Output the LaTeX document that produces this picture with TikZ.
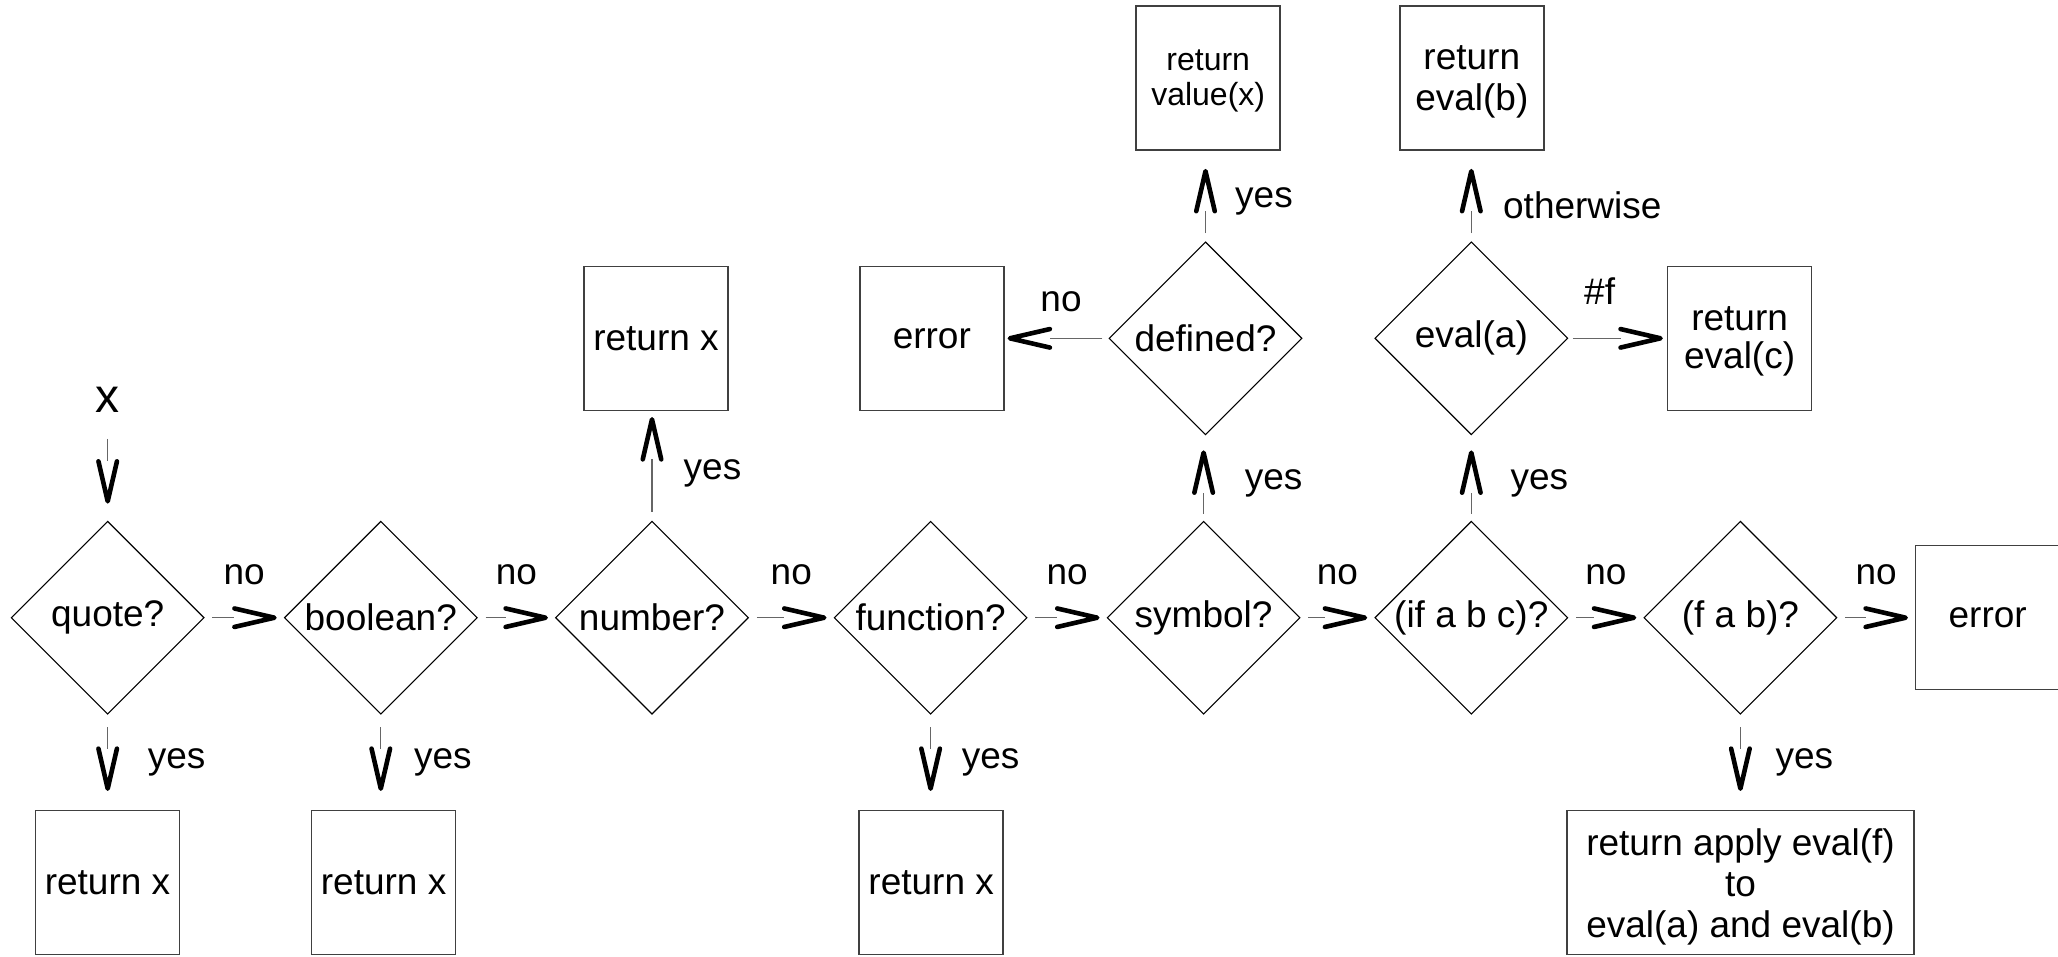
\documentclass[tikz,border=0pt]{standalone}
\usepackage{fontspec}
\setmainfont{Liberation Sans}
\usetikzlibrary{arrows.meta,shapes.geometric}

% Open "V" arrow head: thick black barbs, the shaft stops at the mouth of the V
\pgfdeclarearrow{
  name = OpenVee,
  parameters = {\the\pgfarrowlength,\the\pgfarrowwidth},
  setup code = {
    \pgfarrowssettipend{0pt}
    \pgfarrowssetlineend{-\pgfarrowlength}
    \pgfarrowssetbackend{-\pgfarrowlength}
    \pgfarrowshullpoint{0pt}{0pt}
    \pgfarrowsupperhullpoint{-\pgfarrowlength}{.5\pgfarrowwidth}
    \pgfarrowssavethe\pgfarrowlength
    \pgfarrowssavethe\pgfarrowwidth
  },
  drawing code = {
    \pgfsetlinewidth{4.6pt}
    \pgfsetroundcap
    \pgfsetroundjoin
    \pgfsetdash{}{0pt}
    \pgfpathmoveto{\pgfqpoint{-\pgfarrowlength}{.5\pgfarrowwidth}}
    \pgfpathlineto{\pgfqpoint{0pt}{0pt}}
    \pgfpathlineto{\pgfqpoint{-\pgfarrowlength}{-.5\pgfarrowwidth}}
    \pgfusepathqstroke
  },
  defaults = {length = 40pt, width = 18.5pt}
}

\newcommand\labelfont{\fontsize{37}{41}\selectfont}
\newcommand\smallerfont{\fontsize{32}{35}\selectfont}

\begin{document}
\begin{tikzpicture}[x=1pt, y=-1pt,
  dia/.style={diamond, aspect=1, draw=black, line width=1.1pt,
    minimum width=193pt, minimum height=193pt, inner sep=0pt, font=\labelfont},
  box/.style={rectangle, draw=black!75, line width=1.5pt, minimum width=144pt,
    minimum height=144pt, inner sep=0pt, align=center, font=\labelfont},
  xlbl/.style={inner sep=0pt, font=\fontsize{48}{52}\selectfont},
  lbl/.style={inner sep=0pt, font=\labelfont},
  conn/.style={draw=black!60, line width=1.3pt, -{OpenVee[color=black]},
    shorten <=7.7pt, shorten >=9.3pt},
]
\useasboundingbox (0,0) rectangle (2058,956);
\fill[white] (0,0) rectangle (2058,956);

% main row of tests
\node[xlbl] (xin) at (107.7,400) {x};
\node[dia] (q)   at (107.7,617.7)  {quote?};
\node[dia] (bo)  at (380.8,617.7)  {boolean?};
\node[dia] (nu)  at (652,617.7)    {number?};
\node[dia] (fu)  at (930.6,617.7)  {function?};
\node[dia] (sy)  at (1203.6,617.7) {symbol?};
\node[dia] (ifc) at (1471.3,617.7) {(if a b c)?};
\node[dia] (fab) at (1740.4,617.7) {(f a b)?};
\node[box] (errR) at (1987.7,617.7) {error};

% upper tests and results
\node[dia] (de) at (1205.5,338.3) {defined?};
\node[dia] (ev) at (1471.3,338.3) {eval(a)};
\node[box] (errL) at (931.8,338.3) {error};
\node[box] (rn) at (656,338.3) {return x};
\node[box, font=\fontsize{37}{38}\selectfont, text depth=1.2pt] (rc) at (1739.6,338.3) {return\\eval(c)};
\node[box, font=\smallerfont, text depth=0.7pt] (rv) at (1208.2,78.1) {return\\value(x)};
\node[box, text depth=-2pt] (rb) at (1471.8,78.1) {return\\eval(b)};

% results below the main row
\node[box] (r1) at (107.5,882.7) {return x};
\node[box] (r2) at (383.6,882.7) {return x};
\node[box] (r3) at (931.2,882.7) {return x};
\node[box, minimum width=347pt, text depth=0pt] (app) at (1740.5,882.7)
  {return apply eval(f)\\to\\eval(a) and eval(b)};

% input
\draw[conn, shorten <=26pt, shorten >=19.3pt] (xin) -- (q);

% "no" chain
\draw[conn] (q)   -- node[lbl, midway, yshift=43pt] {no} (bo);
\draw[conn] (bo)  -- node[lbl, midway, yshift=43pt] {no} (nu);
\draw[conn] (nu)  -- node[lbl, midway, yshift=43pt] {no} (fu);
\draw[conn] (fu)  -- node[lbl, midway, yshift=43pt] {no} (sy);
\draw[conn] (sy)  -- node[lbl, midway, yshift=43pt] {no} (ifc);
\draw[conn] (ifc) -- node[lbl, midway, yshift=43pt] {no} (fab);
\draw[conn] (fab) -- node[lbl, midway, yshift=43pt] {no} (errR);

% "yes" downwards
\draw[conn, shorten <=12.7pt, shorten >=21.3pt] (q) -- node[lbl, midway, xshift=69pt] {yes} (q |- r1.north);
\draw[conn, shorten <=12.7pt, shorten >=21.3pt] (bo) -- node[lbl, midway, xshift=62pt] {yes} (bo |- r2.north);
\draw[conn, shorten <=12.7pt, shorten >=21.3pt] (fu) -- node[lbl, midway, xshift=60pt] {yes} (fu |- r3.north);
\draw[conn, shorten <=12.7pt, shorten >=21.3pt] (fab) -- node[lbl, midway, xshift=64pt] {yes} (fab |- app.north);

% "yes" upwards
\draw[conn, shorten <=9pt, shorten >=8.3pt] (nu) -- node[lbl, midway, xshift=60.5pt, yshift=-8pt] {yes} (nu |- rn.south);
\draw[conn, shorten <=7pt, shorten >=17.3pt] (sy) -- node[lbl, midway, xshift=70pt, yshift=-5pt] {yes} (sy |- de.south);
\draw[conn, shorten <=7pt, shorten >=17.3pt] (ifc) -- node[lbl, midway, xshift=68pt, yshift=-5pt] {yes} (ev);

% symbol lookup
\draw[conn, shorten <=8pt, shorten >=20.3pt] (de) -- node[lbl, midway, xshift=58.5pt, yshift=-5pt] {yes} (de |- rv.south);
\draw[conn, shorten <=6pt, shorten >=5.3pt] (de) -- node[lbl, midway, xshift=4.5pt, yshift=36.6pt] {no} (errL);

% conditional
\draw[conn, shorten <=8pt, shorten >=20.3pt] (ev) -- node[lbl, midway, xshift=111pt, yshift=-9pt] {otherwise} (ev |- rb.south);
\draw[conn, shorten <=4.5pt, shorten >=6.3pt] (ev) -- node[lbl, midway, xshift=-18pt, yshift=47pt] {\#f} (rc);
\end{tikzpicture}
\end{document}
